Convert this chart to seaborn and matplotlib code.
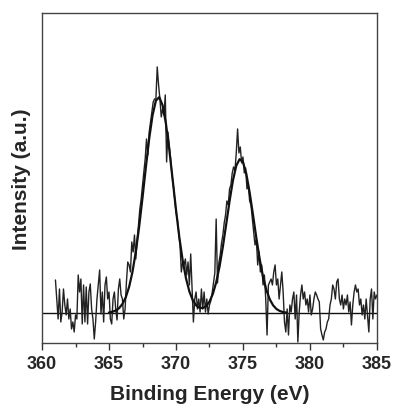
import numpy as np
import pandas as pd
import matplotlib
matplotlib.use("Agg")
import matplotlib.pyplot as plt
from matplotlib.ticker import MultipleLocator, NullLocator
import seaborn as sns

# Measured spectrum: binding energy grid (eV) and background-subtracted counts
energy_start = 361.0
energy_step = 0.1
intensity = [
    33, 14, -6, 24, -9, 1, 24, 8, -2, 14,
    -6, 4, -16, -9, -19, -2, -6, 38, 21, 34,
    -11, 28, -9, 26, -11, 21, 29, 4, -6, -26,
    -9, 14, 28, 43, -1, 21, -9, 28, 36, 14,
    21, -6, -11, 14, 21, 4, -7, 24, 34, 18,
    14, -6, 4, 31, 51, 48, 41, 71, 61, 78,
    54, 74, 88, 104, 114, 128, 141, 154, 174, 158,
    181, 191, 201, 211, 214, 214, 246, 228, 214, 196,
    204, 198, 218, 151, 181, 168, 154, 138, 128, 114,
    101, 94, 81, 68, 41, 51, 48, 54, 38, 51,
    28, 59, 24, -9, 14, 21, 4, 14, 1, 24,
    4, 21, 1, 14, -1, 8, 12, 20, 30, 40,
    94, 30, 50, 58, 70, 78, 90, 98, 112, 108,
    124, 128, 140, 146, 142, 160, 184, 160, 166, 150,
    156, 140, 145, 124, 128, 112, 108, 94, 81, 68,
    74, 48, 61, 41, 48, 28, 38, 14, -22, 28,
    31, 34, 28, 41, 48, 28, 34, 14, 28, 41,
    21, -9, -19, 4, -22, 8, 1, 14, 21, -6,
    18, -29, 1, 18, 28, 14, 21, 8, 14, 1,
    18, -2, 4, 14, 21, 18, 14, 11, -16, -22,
    -27, -19, -16, -9, -6, 8, 14, 28, 24, 14,
    31, 34, 14, 8, 18, 4, 14, 8, 18, 1,
    11, -12, 8, 21, 28, 21, 24, 8, 14, -2,
    8, -6, 14, -2, -19, 14, 24, -6, 21, 14,
    18,
]
energy = energy_start + energy_step * np.arange(len(intensity))

# Two-peak fit envelope, tabulated every 0.25 eV
fit_start = 365.0
fit_step = 0.25
fit_values = [
    0.5, 1.2, 2.5, 4.8, 9.0, 15.7, 26.1, 41.0, 61.2, 86.2,
    115.2, 145.6, 174.4, 197.7, 212.3, 215.8, 207.7, 189.3, 163.3, 133.5,
    103.3, 75.6, 52.5, 34.5, 21.5, 12.9, 7.7, 5.2, 4.9, 6.8,
    11.3, 19.0, 30.5, 46.3, 66.2, 88.8, 111.8, 132.4, 147.2, 153.8,
    151.0, 139.2, 120.5, 98.1, 75.0, 53.8, 36.3, 23.0, 13.7, 7.7,
    4.0, 2.0, 0.9, 0.4,
]
fit_energy = fit_start + fit_step * np.arange(len(fit_values))

x_ticks = [360, 365, 370, 375, 380, 385]

spec = pd.DataFrame({"energy": energy, "intensity": intensity})
fit = pd.DataFrame({"energy": fit_energy, "intensity": fit_values})

sns.set_style("ticks")
plt.rcParams["font.family"] = ["Liberation Sans", "DejaVu Sans"]
plt.rcParams["font.weight"] = "bold"

fig = plt.figure(figsize=(3.93, 4.10), dpi=100)
ax = fig.add_axes([0.107, 0.161, 0.852, 0.805])

ax.axhline(0, color="#111111", lw=1.0, zorder=1)
sns.lineplot(data=spec, x="energy", y="intensity", ax=ax, color="#222222",
             lw=1.0, estimator=None, sort=False, zorder=2)
sns.lineplot(data=fit, x="energy", y="intensity", ax=ax, color="#111111",
             lw=1.6, estimator=None, sort=False, zorder=3)

ax.set_xlim(360, 385)
ax.set_ylim(-30, 300)
ax.set_xticks(x_ticks)
ax.set_xticklabels([str(t) for t in x_ticks])
ax.xaxis.set_minor_locator(MultipleLocator(2.5))
ax.yaxis.set_major_locator(NullLocator())
ax.tick_params(axis="x", which="major", direction="out", length=5, width=1,
               color="#333333", labelsize=13, pad=4)
ax.tick_params(axis="x", which="minor", direction="out", length=3, width=1,
               color="#333333")
for lbl in ax.get_xticklabels():
    lbl.set_fontweight("bold")

for side in ["left", "right", "top", "bottom"]:
    ax.spines[side].set_visible(True)
    ax.spines[side].set_color("#444444")
    ax.spines[side].set_linewidth(1.0)

ax.set_xlabel("Binding Energy (eV)", fontsize=15, fontweight="bold", labelpad=8)
ax.set_ylabel("Intensity (a.u.)", fontsize=15, fontweight="bold", labelpad=8)

fig.savefig("out.png", dpi=100)
